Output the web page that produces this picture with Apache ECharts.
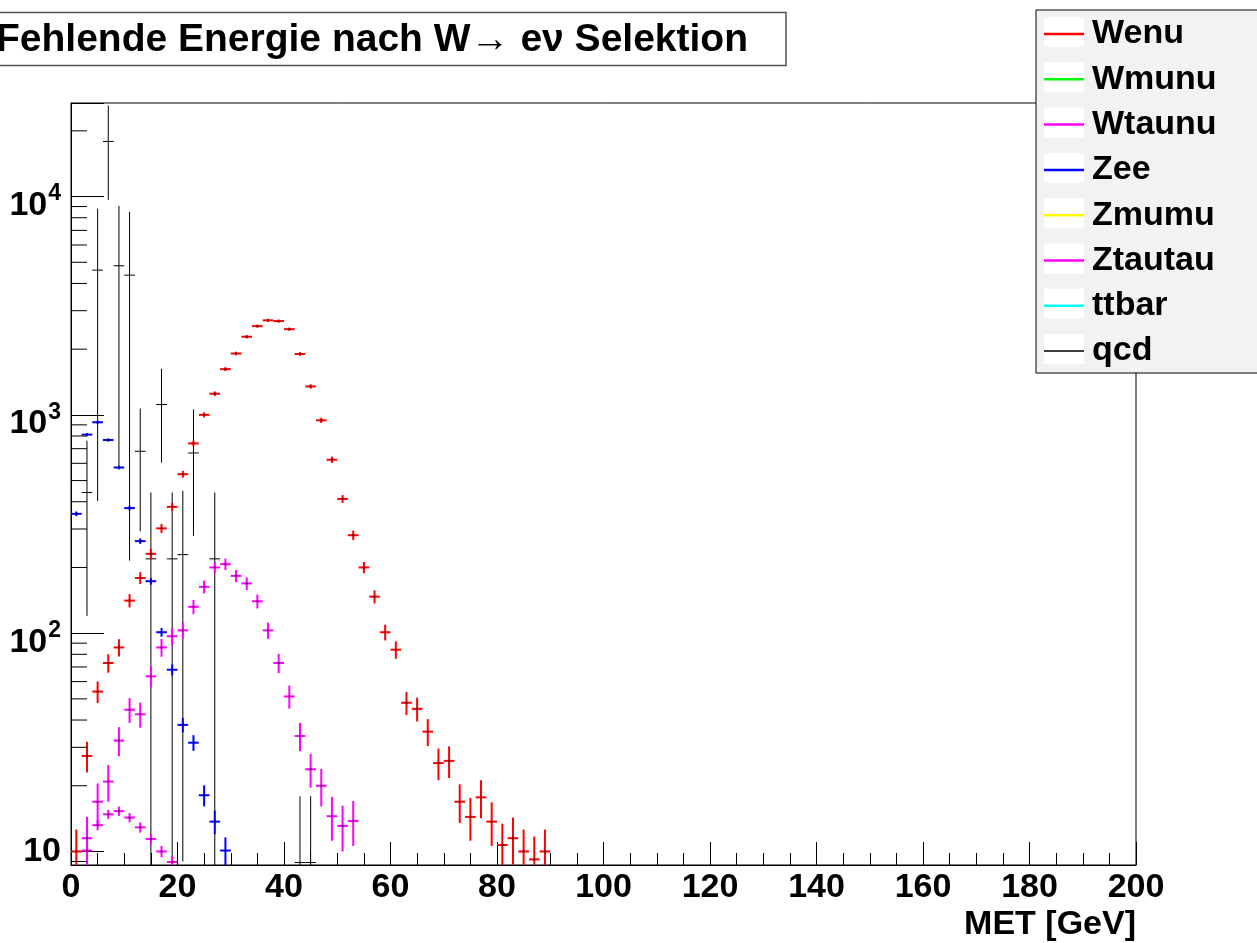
<!DOCTYPE html>
<html>
<head>
<meta charset="utf-8">
<script src="https://cdn.jsdelivr.net/npm/echarts@6/dist/echarts.min.js"></script>
<style>
html,body{margin:0;padding:0;background:#fff;}
#chart{width:1257px;height:943px;}
</style>
</head>
<body>
<div id="chart"></div>
<script>
// ---------------- data ----------------
const xTickLabels = ['0','20','40','60','80','100','120','140','160','180','200'];
const yMinorTickValues = [9, 20, 30, 40, 50, 60, 70, 80, 90, 200, 300, 400, 500, 600, 700, 800, 900,
  2000, 3000, 4000, 5000, 6000, 7000, 8000, 9000, 20000];

const seriesNames = ['Wenu','Wmunu','Wtaunu','Zee','Zmumu','Ztautau','ttbar','qcd'];

const wenuX = [1,3,5,7,9,11,13,15,17,19,21,23,25,27,29,31,33,35,37,39,41,43,45,47,49,51,53,55,57,59,61,63,65,67,69,71,73,75,77,79,81,83,85,87,89];
const wenuY = [10,27.4,54,73,86,141,179,231,302,379,535,740,1000,1250,1620,1910,2280,2550,2710,2690,2470,1900,1350,944,623,412,281,200,147,101,84,48,45,35.4,25.4,26,16.9,14.4,17.7,13.7,10.7,11.5,10,9.2,10];
const wenuErr = [2.6,4.4,6.1,7.1,7.8,9.9,11.2,12.7,14.5,16.3,19.4,22.8,26.5,29.6,33.7,36.6,40,42,43.6,43.4,41.6,36.5,30.7,25.7,20.9,17,14,11.8,10.1,8.4,7.7,5.8,5.6,5.0,4.2,4.3,3.4,3.2,3.5,3.1,2.7,2.8,2.6,2.5,2.6];

const wmunuX = [];
const wmunuY = [];
const wmunuErr = [];

const wtaunuX = [3,5,7,9,11,13,15,17,19,21,23,25,27,29,31,33,35,37,39,41,43,45,47,49,51,53];
const wtaunuY = [11.5,16.9,20.9,32.2,44.6,42.5,63.4,86,96.8,103,132,163,200,207,183,169,140,103,73,51.3,33.8,23.8,20,14.5,13.1,13.8];
const wtaunuErr = [2.9,3.6,4.0,4.9,5.8,5.6,6.9,8.0,8.5,8.8,9.9,11.1,12.2,12.5,11.7,11.3,10.2,8.8,7.4,6.2,5.0,4.2,3.9,3.3,3.1,3.2];

const zeeX = [1,3,5,7,9,11,13,15,17,19,21,23,25,27,29];
const zeeY = [352,812,925,767,574,374,264,173,101,68,38,31.5,18.1,13.7,10.1];
const zeeErr = [8.8,13.4,14.3,13,11.2,9.1,7.6,6.2,4.7,3.9,2.9,2.6,2.0,1.7,1.5];

const zmumuX = [];
const zmumuY = [];
const zmumuErr = [];

const ztautauX = [3,5,7,9,11,13,15,17,19];
const ztautauY = [10.1,13.2,14.8,15.3,14.3,12.9,11.4,10.0,8.95];
const ztautauErr = [0.6,0.7,0.7,0.75,0.7,0.7,0.65,0.6,0.6];

const ttbarX = [];
const ttbarY = [];
const ttbarErr = [];

const qcdX = [3,5,7,9,11,13,15,17,19,21,23,27,43,45];
const qcdY = [441,4603,17890,4819,4365,681,219,1115,219,229,669,219,8.9,8.9];
const qcdErr = [321,4200,8230,4240,4150,388,222,511,222,220,390,222,9,9];

const binWidth = 2;

// ---------------- styles ----------------
const FONT = '"Liberation Sans", Arial, Helvetica, sans-serif';
const colors = {Wenu:'#ff0000', Wmunu:'#00ff00', Wtaunu:'#ff00ff', Zee:'#0000ff',
  Zmumu:'#ffff00', Ztautau:'#ff00ff', ttbar:'#00ffff', qcd:'#000000'};
const widths = {Wenu:2, Wmunu:2, Wtaunu:2, Zee:2, Zmumu:2, Ztautau:2, ttbar:2, qcd:1};

function rows(xs, ys, es) {
  return xs.map((x, i) => [x, ys[i], es[i]]);
}
const seriesData = {
  Wenu: rows(wenuX, wenuY, wenuErr),
  Wmunu: rows(wmunuX, wmunuY, wmunuErr),
  Wtaunu: rows(wtaunuX, wtaunuY, wtaunuErr),
  Zee: rows(zeeX, zeeY, zeeErr),
  Zmumu: rows(zmumuX, zmumuY, zmumuErr),
  Ztautau: rows(ztautauX, ztautauY, ztautauErr),
  ttbar: rows(ttbarX, ttbarY, ttbarErr),
  qcd: rows(qcdX, qcdY, qcdErr)
};

function errRender(color, width, dot) {
  return function (params, api) {
    const x = api.value(0), y = api.value(1), e = api.value(2);
    const pL = api.coord([x - binWidth / 2, y]);
    const pR = api.coord([x + binWidth / 2, y]);
    const pT = api.coord([x, y + e]);
    const pB = api.coord([x, Math.max(y - e, 1)]);
    const pC = api.coord([x, y]);
    const children = [
      {type:'line', shape:{x1:pL[0], y1:pL[1], x2:pR[0], y2:pR[1]}, style:{stroke:color, lineWidth:width}},
      {type:'line', shape:{x1:pT[0], y1:pT[1], x2:pB[0], y2:pB[1]}, style:{stroke:color, lineWidth:width}}
    ];
    if (dot) {
      children.push({type:'rect', shape:{x:pC[0]-1, y:pC[1]-1, width:2, height:2}, style:{fill:'#000', opacity:0.55}});
    }
    return {type:'group', children};
  };
}

const series = seriesNames.map(name => ({
  name,
  type: 'custom',
  clip: true,
  coordinateSystem: 'cartesian2d',
  itemStyle: {color: colors[name]},
  data: seriesData[name],
  renderItem: errRender(colors[name], widths[name], name !== 'qcd'),
  z: name === 'qcd' ? 1 : 2
}));

// minor ticks of the log axis (2..9 x 10^k)
series.push({
  name: '_minorTicks',
  type: 'custom',
  clip: false,
  data: yMinorTickValues.map(v => [0, v]),
  renderItem: function (params, api) {
    const p = api.coord([api.value(0), api.value(1)]);
    return {type:'line', shape:{x1:p[0], y1:p[1], x2:p[0] + 16, y2:p[1]}, style:{stroke:'#000', lineWidth:1}};
  },
  silent: true,
  z: 3
});

function yLabel(v) {
  const lg = Math.log10(v);
  const e = Math.round(lg);
  if (Math.abs(lg - e) > 1e-6) return '';
  if (e === 1) return '{p|10}';
  return '{b|10}{s|' + e + '}';
}

const legendStep = 45.3;
const legendBoxTop = 17;
const graphics = [
  // title box
  {type:'rect', shape:{x:-10, y:12.5, width:796, height:53}, style:{fill:'#fff', stroke:'#555', lineWidth:1.5}, z:1},
  {type:'text', z:2, style:{
    x:748, y:40, textAlign:'right', textVerticalAlign:'middle',
    text:'{b|Fehlende Energie nach W}{n|\u2192 }{b|e\u03bd Selektion}',
    rich:{
      b:{fontFamily:FONT, fontWeight:'bold', fontSize:39, fill:'#000'},
      n:{fontFamily:FONT, fontWeight:'normal', fontSize:39, fill:'#000'}
    }
  }},
  // legend box
  {type:'rect', shape:{x:1036, y:10, width:240, height:363}, style:{fill:'#f2f2f2', stroke:'#000', lineWidth:1}, z:1},
  // axis title
  {type:'text', z:2, style:{x:1136, y:925, textAlign:'right', textVerticalAlign:'middle',
    text:'MET [GeV]', fontFamily:FONT, fontWeight:'bold', fontSize:34, fill:'#000'}}
];
seriesNames.forEach((n, i) => {
  graphics.push({type:'rect', z:2, shape:{x:1044, y:legendBoxTop + i * legendStep, width:40, height:30}, style:{fill:'#fff'}});
});

const chart = echarts.init(document.getElementById('chart'), null, {renderer:'canvas'});
chart.setOption({
  animation: false,
  backgroundColor: '#fff',
  grid: {left:71, right:121, top:103, bottom:78, show:true, borderColor:'#000', borderWidth:1,
    containLabel:false, outerBoundsMode:'none'},
  xAxis: {
    type:'value', min:0, max:200, interval:20,
    axisLine:{show:true, onZero:false, lineStyle:{color:'#000', width:1}},
    axisTick:{show:true, inside:true, length:23, lineStyle:{color:'#000', width:1}},
    minorTick:{show:true, splitNumber:4, length:12, lineStyle:{color:'#000', width:1}},
    splitLine:{show:false},
    axisLabel:{fontFamily:FONT, fontWeight:'bold', fontSize:34, color:'#000', margin:6,
      formatter: function (v) { return xTickLabels[Math.round(v / 20)] || ''; }}
  },
  yAxis: {
    type:'log', logBase:10, min:8.67, max:26830,
    axisLine:{show:true, onZero:false, lineStyle:{color:'#000', width:1}},
    axisTick:{show:true, inside:true, length:33, lineStyle:{color:'#000', width:1}},
    minorTick:{show:false},
    splitLine:{show:false},
    axisLabel:{margin:10, formatter: yLabel,
      rich:{
        p:{fontFamily:FONT, fontWeight:'bold', fontSize:34, color:'#000'},
        b:{fontFamily:FONT, fontWeight:'bold', fontSize:34, color:'#000', padding:[18,0,0,0]},
        s:{fontFamily:FONT, fontWeight:'bold', fontSize:23, color:'#000', verticalAlign:'top', padding:[12,0,12,1]}
      }}
  },
  legend: {
    show:true, orient:'vertical', left:1044, top:17, padding:0,
    itemWidth:40, itemHeight:30, itemGap:11.3, selectedMode:false,
    symbolKeepAspect:true, z:10,
    textStyle:{fontFamily:FONT, fontWeight:'bold', fontSize:34, color:'#000', padding:[0,0,0,3]},
    data: seriesNames.map(n => ({
      name:n,
      icon: n === 'qcd' ? 'path://M0,0h40v1.5H0z' : 'path://M0,0h40v2.5H0z',
      itemStyle:{color:colors[n], borderWidth:0}
    }))
  },
  graphic: graphics,
  series: series
});
</script>
</body>
</html>
